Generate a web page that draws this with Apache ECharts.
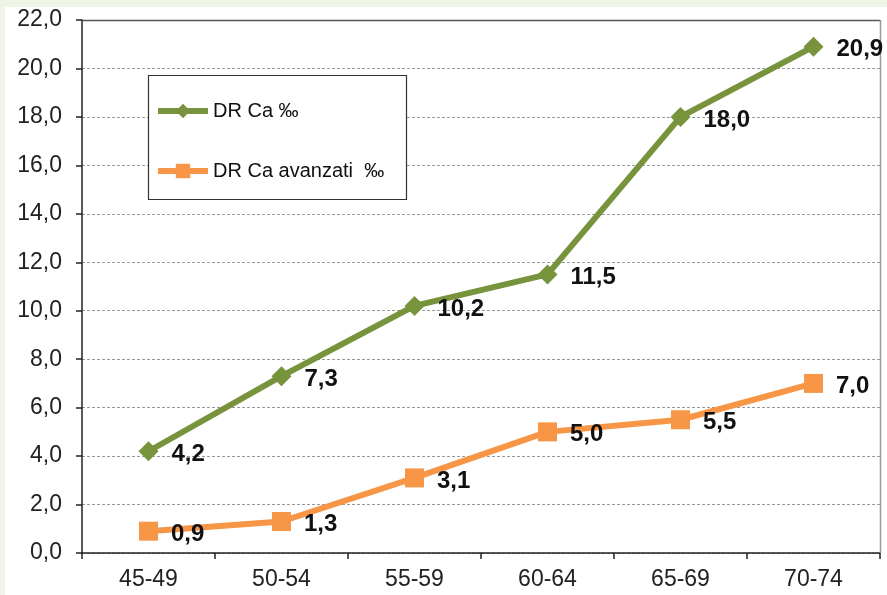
<!DOCTYPE html>
<html><head><meta charset="utf-8">
<script src="https://cdn.jsdelivr.net/npm/echarts@6/dist/echarts.min.js"></script>
<style>html,body{margin:0;padding:0;background:#eef4e6;}#c{width:887px;height:595px;}</style>
</head><body><div id="c"></div>
<script>
var categories = ['45-49','50-54','55-59','60-64','65-69','70-74'];
var drCa = [4.2, 7.3, 10.2, 11.5, 18.0, 20.9];
var drCaAvanzati = [0.9, 1.3, 3.1, 5.0, 5.5, 7.0];
var seriesNames = ['DR Ca \u2030', 'DR Ca avanzati  \u2030'];
var yTicks = {min: 0, max: 22, interval: 2};

var fmt = function (v) { return Number(v).toFixed(1).replace('.', ','); };
var chart = echarts.init(document.getElementById('c'));
var labelStyle = {show: true, position: 'right', distance: 13, offset: [0, 3], fontFamily: 'Liberation Sans, Arial', fontWeight: 'bold', fontSize: 24, color: '#111',
  formatter: function (p) { return fmt(p.value); }};
chart.setOption({
  backgroundColor: '#eef4e6',
  animation: false,
  graphic: [
    {type: 'rect', z: -10, shape: {x: 5, y: 7, width: 882, height: 588}, style: {fill: '#ffffff'}},
    {type: 'rect', z: 5, shape: {x: 148.5, y: 75.5, width: 258, height: 124}, style: {fill: '#ffffff', stroke: '#333', lineWidth: 1.2}},
    {type: 'line', z: 1, shape: {x1: 82, y1: 20.5, x2: 880, y2: 20.5}, style: {stroke: '#555', lineWidth: 1.5}},
    {type: 'line', z: 1, shape: {x1: 880.5, y1: 20, x2: 880.5, y2: 553}, style: {stroke: '#999', lineWidth: 1.5}}
  ],
  grid: {left: 82, right: 7, top: 20, bottom: 42, containLabel: false},
  legend: {
    orient: 'vertical', left: 150, top: 96, itemWidth: 50, itemHeight: 18, itemGap: 40, z: 10,
    lineStyle: {width: 6},
    textStyle: {fontFamily: 'Liberation Sans, Arial', fontSize: 20, color: '#111'},
    data: seriesNames
  },
  xAxis: {
    type: 'category', data: categories, boundaryGap: true,
    axisLine: {lineStyle: {color: '#222', width: 1.5}},
    axisTick: {show: true, length: 6, inside: false, lineStyle: {color: '#222', width: 1.5}},
    axisLabel: {fontFamily: 'Liberation Sans, Arial', fontSize: 23, color: '#222', margin: 15}
  },
  yAxis: {
    type: 'value', min: yTicks.min, max: yTicks.max, interval: yTicks.interval,
    axisLine: {show: true, lineStyle: {color: '#222', width: 1.5}},
    axisTick: {show: true, length: 6, lineStyle: {color: '#222', width: 1.5}},
    axisLabel: {fontFamily: 'Liberation Sans, Arial', fontSize: 23, color: '#222', margin: 20, formatter: fmt},
    splitLine: {show: true, lineStyle: {color: '#999', type: [3, 2], width: 1}}
  },
  series: [
    {name: seriesNames[0], type: 'line', data: drCa, symbol: 'diamond', symbolSize: 20,
      lineStyle: {color: '#77933c', width: 6}, itemStyle: {color: '#77933c'}, label: labelStyle, z: 3},
    {name: seriesNames[1], type: 'line', data: drCaAvanzati, symbol: 'rect', symbolSize: 19,
      lineStyle: {color: '#f79646', width: 6}, itemStyle: {color: '#f79646'}, label: labelStyle, z: 3}
  ]
});
</script></body></html>
